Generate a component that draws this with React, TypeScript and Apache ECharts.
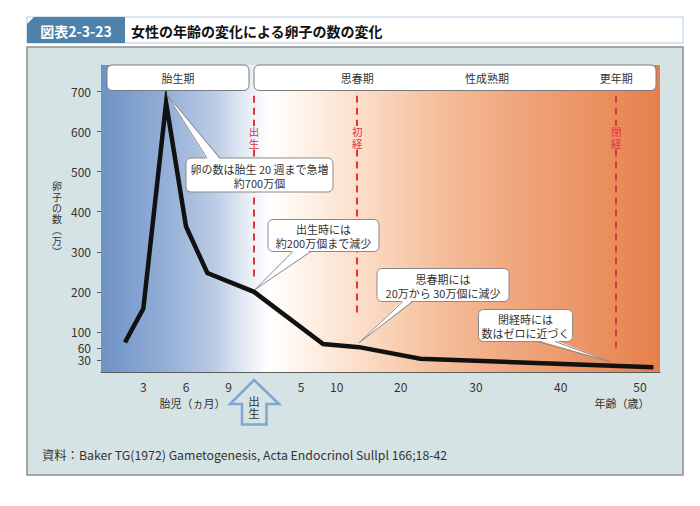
import React, { useEffect, useRef } from 'react';
import * as echarts from 'echarts';

// ---- data (万個) ----
const fetalMonths = [1.7, 3, 4.6, 6, 7.5];
const fetalCounts = [74, 158, 672, 363, 247];
const birthCount = 200;
const postnatalAges = [8.1, 13.5, 22.6, 51.7];
const postnatalCounts = [70, 62, 33, 12];

const yTickValues = [30, 60, 100, 200, 300, 400, 500, 600, 700];
const fetalTickLabels = [3, 6, 9];
const ageTickLabels = [5, 10, 20, 30, 40, 50];

const periods = ['胎生期', '思春期', '性成熟期', '更年期'];
const periodAges = [13.2, 31.3, 47];
const events = ['出生', '初経', '閉経'];
const eventAges = [0, 13.2, 47];
const eventLineEnds = [238, 141, 61];

const yAxisName = ['卵', '子', 'の', '数', '︵', '万', '︶'];

const calloutTexts = [
  '卵の数は胎生 20 週まで急増\n約700万個',
  '出生時には\n約200万個まで減少',
  '思春期には\n20万から 30万個に減少',
  '閉経時には\n数はゼロに近づく',
];

// ---- hand-drawn (non-linear) x scale: fetal months / years of age -> axis units ----
const FETAL_SCALE = [[0, 0], [3, 7.57], [6, 15.21], [9, 22.84], [10.84, 27.37]];
const AGE_SCALE = [[0, 27.37], [5, 35.78], [10, 42.16], [20, 53.61], [30, 67.08], [40, 82.24], [50, 96.42], [60, 110.6]];
const X_MAX = 100;
const Y_MAX = 766;

function interp(knots: number[][], x: number) {
  for (let i = 0; i < knots.length - 1; i++) {
    const [x0, y0] = knots[i];
    const [x1, y1] = knots[i + 1];
    if (x <= x1 || i === knots.length - 2) return y0 + ((y1 - y0) * (x - x0)) / (x1 - x0);
  }
  return 0;
}
const fetalU = (m: number) => interp(FETAL_SCALE, m);
const ageU = (a: number) => interp(AGE_SCALE, a);

const FONT = '"Noto Sans CJK JP", "Noto Sans", sans-serif';

export default function App() {
  const ref = useRef<HTMLDivElement>(null);

  useEffect(() => {
    if (!ref.current) return;
    const chart = echarts.init(ref.current, null, { renderer: 'svg' });

    const lineData = [
      ...fetalMonths.map((m, i) => [fetalU(m), fetalCounts[i]]),
      [ageU(0), birthCount],
      ...postnatalAges.map((a, i) => [ageU(a), postnatalCounts[i]]),
    ];
    const xTicks = [
      ...fetalTickLabels.map((m) => ({ u: fetalU(m), label: String(m) })),
      ...ageTickLabels.map((a) => ({ u: ageU(a), label: String(a) })),
    ];
    const xTickU = xTicks.map((t) => t.u);
    const xFormatter = (v: number) => {
      const t = xTicks.find((k) => Math.abs(k.u - v) < 1e-6);
      return t ? t.label : '';
    };

    const gradient = new echarts.graphic.LinearGradient(0, 0, 1, 0, [
      { offset: 0, color: '#6d92c5' },
      { offset: 0.12, color: '#95b0d7' },
      { offset: 0.2, color: '#b9cae4' },
      { offset: 0.26, color: '#e6ecf5' },
      { offset: 0.3, color: '#ffffff' },
      { offset: 0.36, color: '#fef3ea' },
      { offset: 0.47, color: '#fbdcc6' },
      { offset: 0.6, color: '#f5bf9c' },
      { offset: 0.75, color: '#efa57b' },
      { offset: 0.9, color: '#ea8f5f' },
      { offset: 1, color: '#e5804c' },
    ]);

    const eventU = eventAges.map((a) => ageU(a));
    const markLines: any[] = [];
    eventU.forEach((u, i) => {
      markLines.push([{ coord: [u, 689] }, { coord: [u, 614] }]);
      markLines.push([{ coord: [u, 555] }, { coord: [u, eventLineEnds[i]] }]);
    });

    const axisColor = '#5a5a5a';
    chart.setOption({
      animation: false,
      grid: { left: 101, top: 65, width: 559, height: 307, containLabel: false },
      xAxis: {
        type: 'value',
        min: 0,
        max: X_MAX,
        axisLine: { show: true, onZero: false, lineStyle: { color: axisColor, width: 1 } },
        axisTick: { show: true, inside: true, length: 5, customValues: xTickU, lineStyle: { color: axisColor } },
        axisLabel: { customValues: xTickU, formatter: xFormatter, margin: 8, fontSize: 12, color: '#333', fontFamily: FONT },
        splitLine: { show: false },
      },
      yAxis: {
        type: 'value',
        min: 0,
        max: Y_MAX,
        axisLine: { show: true, onZero: false, lineStyle: { color: axisColor, width: 1 } },
        axisTick: { show: true, length: 4, customValues: yTickValues, lineStyle: { color: axisColor } },
        axisLabel: { customValues: yTickValues, margin: 10, fontSize: 12, lineHeight: 12, color: '#333', fontFamily: FONT },
        splitLine: { show: false },
      },
      series: [
        {
          type: 'line',
          data: [],
          z: 1,
          silent: true,
          markArea: {
            silent: true,
            label: { show: false },
            itemStyle: { color: gradient, opacity: 1, borderWidth: 0 },
            data: [[{ xAxis: 0, yAxis: 0 }, { xAxis: X_MAX, yAxis: Y_MAX }]],
          },
        },
        {
          type: 'line',
          data: [],
          z: 2,
          silent: true,
          markLine: {
            silent: true,
            symbol: ['none', 'none'],
            label: { show: false },
            lineStyle: { type: [7, 5], color: '#e2343c', width: 2 },
            data: markLines,
          },
        },
        {
          type: 'line',
          data: lineData,
          z: 3,
          symbol: 'none',
          silent: true,
          lineStyle: { color: '#111', width: 4.5, join: 'miter', miterLimit: 20 },
        },
      ],
    });

    const px = (u: number, v: number) => chart.convertToPixel({ gridIndex: 0 }, [u, v]) as number[];
    const [gx0, gyTop] = px(0, Y_MAX);
    const [gx1, gy0] = px(X_MAX, 0);
    const birthX = px(eventU[0], 0)[0];

    const g: any[] = [];
    const txt = (text: string, x: number, y: number, o: any = {}) => ({
      type: 'text',
      z: 20,
      silent: true,
      style: {
        text,
        x,
        y,
        align: o.align || 'center',
        verticalAlign: 'middle',
        fontSize: o.fontSize || 11,
        fontWeight: o.fontWeight || 'normal',
        fontFamily: FONT,
        fill: o.fill || '#333',
        lineHeight: o.lineHeight || 14,
      },
    });

    // panel
    g.push({ type: 'rect', z: 0, silent: true, shape: { x: 27, y: 47, width: 656, height: 428 }, style: { fill: '#d6e3e5', stroke: '#8e8e8e', lineWidth: 1.5 } });
    // title bar
    g.push({ type: 'rect', z: 0, silent: true, shape: { x: 27, y: 17, width: 656, height: 26 }, style: { fill: '#ffffff', stroke: '#b3cbe0', lineWidth: 1 } });
    g.push({ type: 'polygon', z: 1, silent: true, shape: { points: [[27, 24], [34, 17], [125, 17], [125, 43], [27, 43]] }, style: { fill: '#4f82ab' } });
    g.push(txt('図表2-3-23', 76, 30.5, { fontSize: 14, fontWeight: 'bold', fill: '#ffffff' }));
    g.push(txt('女性の年齢の変化による卵子の数の変化', 131, 30.5, { fontSize: 14, fontWeight: 'bold', fill: '#111', align: 'left' }));

    // period header boxes
    const hbTop = gyTop;
    const hbH = 25.5;
    g.push({ type: 'rect', z: 10, silent: true, shape: { x: gx0 + 6, y: hbTop, width: birthX - 5 - (gx0 + 6), height: hbH, r: 5 }, style: { fill: '#fff', stroke: '#7a7a7a', lineWidth: 1 } });
    g.push({ type: 'rect', z: 10, silent: true, shape: { x: birthX, y: hbTop, width: gx1 - 4 - birthX, height: hbH, r: 5 }, style: { fill: '#fff', stroke: '#7a7a7a', lineWidth: 1 } });
    g.push(txt(periods[0], (gx0 + 6 + birthX - 5) / 2, hbTop + hbH / 2 + 0.5));
    periodAges.forEach((a, i) => {
      g.push(txt(periods[i + 1], px(ageU(a), 0)[0], hbTop + hbH / 2 + 0.5));
    });

    // red vertical event labels
    eventU.forEach((u, i) => {
      const [x, y] = px(u, 584.5);
      events[i].split('').forEach((ch, j) => {
        g.push(txt(ch, x, y - 5.75 + j * 11.5, { fontSize: 10.5, lineHeight: 10.5, fill: '#e2343c' }));
      });
    });

    // callouts
    const callouts = [
      { anchor: [fetalU(4.65), 692], box: [186, 158, 147, 34], side: 'top', base: [207, 220] },
      { anchor: [ageU(0) + 0.2, 206], box: [268, 219.5, 111, 32], side: 'bottom', base: [293, 311] },
      { anchor: [ageU(13.5), 73], box: [377, 268.5, 132, 33], side: 'bottom', base: [403, 413] },
      { anchor: [ageU(46.2), 26], box: [478.5, 309.5, 94, 32], side: 'bottom', base: [537, 555] },
    ];
    callouts.forEach((c, i) => {
      const [bx, by, bw, bh] = c.box;
      const apex = px(c.anchor[0], c.anchor[1]);
      const edgeY = c.side === 'top' ? by : by + bh;
      const inY = c.side === 'top' ? by + 1.5 : by + bh - 1.5;
      g.push({ type: 'rect', z: 12, silent: true, shape: { x: bx, y: by, width: bw, height: bh, r: 5 }, style: { fill: '#fff', stroke: '#8a8a8a', lineWidth: 1 } });
      g.push({ type: 'polygon', z: 13, silent: true, shape: { points: [[c.base[0], inY], apex, [c.base[1], inY]] }, style: { fill: '#fff' } });
      g.push({ type: 'polyline', z: 14, silent: true, shape: { points: [[c.base[0], edgeY], apex, [c.base[1], edgeY]] }, style: { stroke: '#8a8a8a', lineWidth: 1, fill: null } });
      g.push(txt(calloutTexts[i], bx + bw / 2, by + bh / 2 + 0.5, { fontSize: 11, lineHeight: 14 }));
    });

    // y axis name (vertical writing, one glyph per element)
    const nameMid = (gyTop + gy0) / 2;
    const step = 11;
    yAxisName.forEach((ch, j) => {
      g.push(txt(ch, 57, nameMid + (j - (yAxisName.length - 1) / 2) * step, { fontSize: 10, lineHeight: 10 }));
    });
    g.push(txt('胎児（ヵ月）', 192.5, gy0 + 31, { fontSize: 11 }));
    g.push(txt('年齢（歳）', 622, gy0 + 31, { fontSize: 11 }));

    // birth arrow
    const tipY = gy0 + 8;
    g.push({
      type: 'polygon', z: 10, silent: true,
      shape: { points: [[birthX, tipY], [birthX + 25, tipY + 24], [birthX + 12.5, tipY + 24], [birthX + 12.5, tipY + 44.5], [birthX - 12, tipY + 44.5], [birthX - 12, tipY + 24], [birthX - 24, tipY + 24]] },
      style: { fill: 'none', stroke: '#7fa5d0', lineWidth: 2.5, lineJoin: 'miter' },
    });
    g.push(txt('出', birthX, tipY + 20.5, { fontSize: 11.5, lineHeight: 11.5 }));
    g.push(txt('生', birthX, tipY + 33, { fontSize: 11.5, lineHeight: 11.5 }));

    // source
    g.push(txt('資料：Baker TG(1972) Gametogenesis, Acta Endocrinol Sullpl 166;18-42', 42, 455, { fontSize: 12.3, align: 'left' }));

    chart.setOption({ graphic: { elements: g } });

    return () => chart.dispose();
  }, []);

  return <div ref={ref} style={{ width: 700, height: 506, position: 'absolute', left: 0, top: 0 }} />;
}
